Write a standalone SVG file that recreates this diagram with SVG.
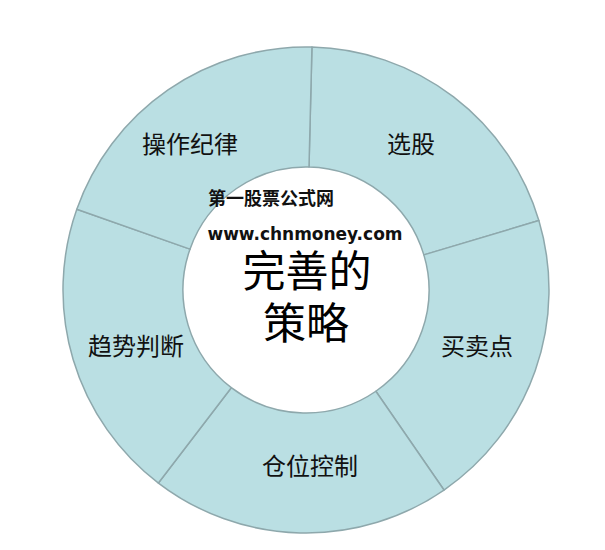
<svg xmlns="http://www.w3.org/2000/svg" width="605" height="550" viewBox="0 0 605 550">
<style>
.seg{fill:#badfe3;stroke:#8ea8ac;stroke-width:1.5;stroke-linejoin:round}
.lbl{font-family:"Noto Sans CJK SC","Liberation Sans",sans-serif;font-size:24px;fill:#111;text-anchor:middle}
.big{font-family:"Noto Sans CJK SC","Liberation Sans",sans-serif;font-size:43px;fill:#000;text-anchor:middle}
.wm{font-family:"DejaVu Sans","Noto Sans CJK SC",sans-serif;font-weight:bold;fill:#111;text-anchor:middle}
</style>
<rect width="605" height="550" fill="#ffffff"/>
<g id="seg-xuangu">
<path class="seg" d="M311.94,47.07 A243,243 0 0 1 538.87,220.58 L423.87,254.86 A123,123 0 0 0 309.00,167.04 Z"/>
<text class="lbl" x="411" y="153">选股</text>
</g>
<g id="seg-maimaidian">
<path class="seg" d="M538.87,220.58 A243,243 0 0 1 443.99,490.02 L375.84,391.25 A123,123 0 0 0 423.87,254.86 Z"/>
<text class="lbl" x="477" y="355">买卖点</text>
</g>
<g id="seg-cangwei">
<path class="seg" d="M443.99,490.02 A243,243 0 0 1 158.41,483.04 L231.29,387.71 A123,123 0 0 0 375.84,391.25 Z"/>
<text class="lbl" x="310" y="475">仓位控制</text>
</g>
<g id="seg-qushi">
<path class="seg" d="M158.41,483.04 A243,243 0 0 1 76.80,209.29 L189.98,249.14 A123,123 0 0 0 231.29,387.71 Z"/>
<text class="lbl" x="136" y="355">趋势判断</text>
</g>
<g id="seg-caozuo">
<path class="seg" d="M76.80,209.29 A243,243 0 0 1 311.94,47.07 L309.00,167.04 A123,123 0 0 0 189.98,249.14 Z"/>
<text class="lbl" x="190" y="153">操作纪律</text>
</g>
<g id="center">
<text class="wm" x="271" y="205" font-size="18">第一股票公式网</text>
<text class="wm" x="305" y="240" font-size="17" textLength="195" lengthAdjust="spacingAndGlyphs">www.chnmoney.com</text>
<text class="big" x="307" y="287">完善的</text>
<text class="big" x="306" y="339">策略</text>
</g>
<g id="connectors"></g>
</svg>
